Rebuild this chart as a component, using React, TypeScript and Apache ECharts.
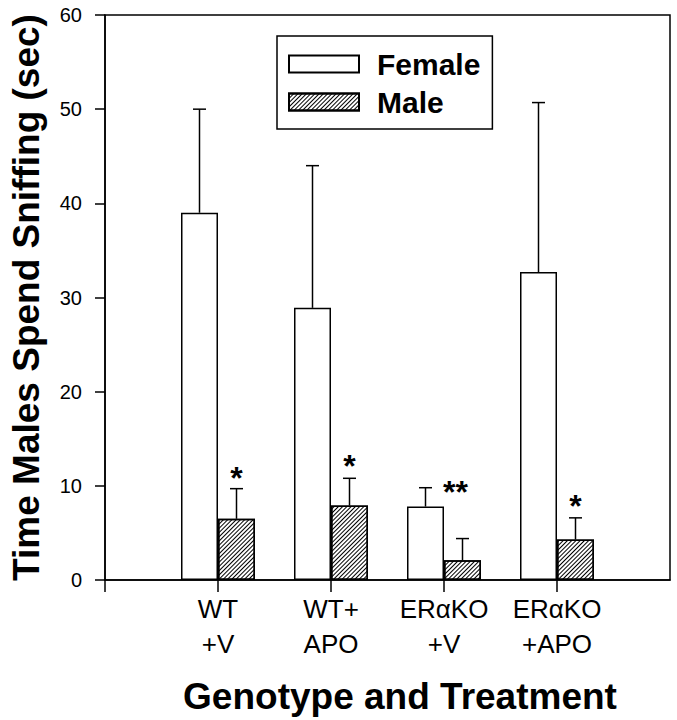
import React, { useEffect, useRef } from "react";
import * as echarts from "echarts";

const categories = ["WT\n+V", "WT+\nAPO", "ERαKO\n+V", "ERαKO\n+APO"];
const femaleMean = [39.0, 28.9, 7.8, 32.7];
const femaleSem = [11.0, 15.1, 2.0, 18.0];
const maleMean = [6.5, 7.9, 2.1, 4.3];
const maleSem = [3.2, 2.9, 2.3, 2.3];
const significance = ["*", "*", "**", "*"];
const significanceLevel = [11.6, 12.9, 10.1, 8.6];
const seriesNames = ["Female", "Male"];
const yMin = 0;
const yMax = 60;
const yInterval = 10;

const FONT = "'Liberation Sans', Arial, Helvetica, sans-serif";
const BAR_W = 37;

function errorSeries(mean: number[], sem: number[], offset: number) {
  return {
    type: "custom",
    z: 5,
    renderItem: (params: any, api: any) => {
      const idx = api.value(0);
      const a = api.coord([idx, api.value(1)]);
      const b = api.coord([idx, api.value(2)]);
      const x = a[0] + offset;
      return {
        type: "group",
        children: [
          { type: "line", shape: { x1: x, y1: a[1], x2: x, y2: b[1] }, style: { stroke: "#000", lineWidth: 1.5 } },
          { type: "line", shape: { x1: x - 6.5, y1: b[1], x2: x + 6.5, y2: b[1] }, style: { stroke: "#000", lineWidth: 1.5 } },
        ],
      };
    },
    data: mean.map((m, i) => [i + 1, m, m + sem[i]]),
  };
}

export default function App() {
  const ref = useRef<HTMLDivElement>(null);
  useEffect(() => {
    const chart = echarts.init(ref.current!, null, { renderer: "svg" });
    const xData = ["", ...categories, ""];
    const pad = (arr: number[]) => ["-", ...arr, "-"];
    const option: any = {
      animation: false,
      backgroundColor: "#fff",
      textStyle: { fontFamily: FONT },
      grid: {
        left: 105,
        right: 7,
        top: 15,
        bottom: 140,
        show: true,
        borderColor: "#000",
        borderWidth: 1.5,
        backgroundColor: "transparent",
      },
      legend: {
        orient: "vertical",
        left: 277,
        top: 36,
        data: seriesNames.map((n) => ({ name: n, icon: "rect" })),
        borderColor: "#000",
        borderWidth: 1.5,
        padding: [13, 12, 12, 11],
        itemWidth: 70,
        itemHeight: 17,
        itemGap: 8,
        textStyle: {
          fontFamily: FONT,
          fontSize: 30,
          fontWeight: "bold",
          color: "#000",
          lineHeight: 30,
          padding: [0, 0, 0, 13],
        },
      },
      xAxis: {
        type: "category",
        boundaryGap: false,
        data: xData,
        name: "Genotype and Treatment",
        nameLocation: "middle",
        nameGap: 98,
        nameTextStyle: { fontFamily: FONT, fontSize: 37, fontWeight: "bold", color: "#000", padding: [0, 0, 0, 25] },
        axisLine: { lineStyle: { color: "#000", width: 1.5 } },
        axisTick: {
          show: true,
          length: 12,
          interval: (i: number) => i < xData.length - 1,
          lineStyle: { color: "#000", width: 1.5 },
        },
        axisLabel: { interval: 0, fontFamily: FONT, fontSize: 26, color: "#000", lineHeight: 35, margin: 11 },
        splitLine: { show: false },
      },
      yAxis: {
        type: "value",
        min: yMin,
        max: yMax,
        interval: yInterval,
        name: "Time Males Spend Sniffing (sec)",
        nameLocation: "middle",
        nameGap: 60,
        nameTextStyle: { fontFamily: FONT, fontSize: 37, fontWeight: "bold", color: "#000" },
        axisLine: { show: true, lineStyle: { color: "#000", width: 1.5 } },
        axisTick: { show: true, length: 10, lineStyle: { color: "#000", width: 1.5 } },
        axisLabel: { fontFamily: FONT, fontSize: 20, color: "#000", margin: 23 },
        splitLine: { show: false },
      },
      series: [
        {
          name: seriesNames[0],
          type: "bar",
          barWidth: BAR_W,
          barGap: "0%",
          itemStyle: { color: "#fff", borderColor: "#000", borderWidth: 1.5 },
          data: pad(femaleMean),
        },
        {
          name: seriesNames[1],
          type: "bar",
          barWidth: BAR_W,
          barGap: "0%",
          itemStyle: {
            color: "#fff",
            borderColor: "#000",
            borderWidth: 1.5,
            decal: {
              symbol: "rect",
              symbolSize: 1,
              color: "#000",
              dashArrayX: [1, 0],
              dashArrayY: [1, 2],
              rotation: -Math.PI / 4,
            },
          },
          data: pad(maleMean),
        },
        errorSeries(femaleMean, femaleSem, -BAR_W / 2),
        errorSeries(maleMean, maleSem, BAR_W / 2),
        {
          type: "custom",
          z: 6,
          renderItem: (params: any, api: any) => {
            const idx = api.value(0);
            const p = api.coord([idx, api.value(1)]);
            const s = significance[params.dataIndex];
            const dx = s.length > 1 ? BAR_W / 2 - 7 : BAR_W / 2;
            return {
              type: "text",
              x: p[0] + dx,
              y: p[1] + 7,
              style: {
                text: s,
                font: `bold 32px ${FONT}`,
                fill: "#000",
                align: "center",
                verticalAlign: "middle",
              },
            };
          },
          data: significanceLevel.map((v, i) => [i + 1, v]),
        },
      ],
    };
    chart.setOption(option);
    return () => chart.dispose();
  }, []);
  return (
    <div
      ref={ref}
      style={{ position: "fixed", left: 0, top: 0, width: 677, height: 720 }}
    />
  );
}
